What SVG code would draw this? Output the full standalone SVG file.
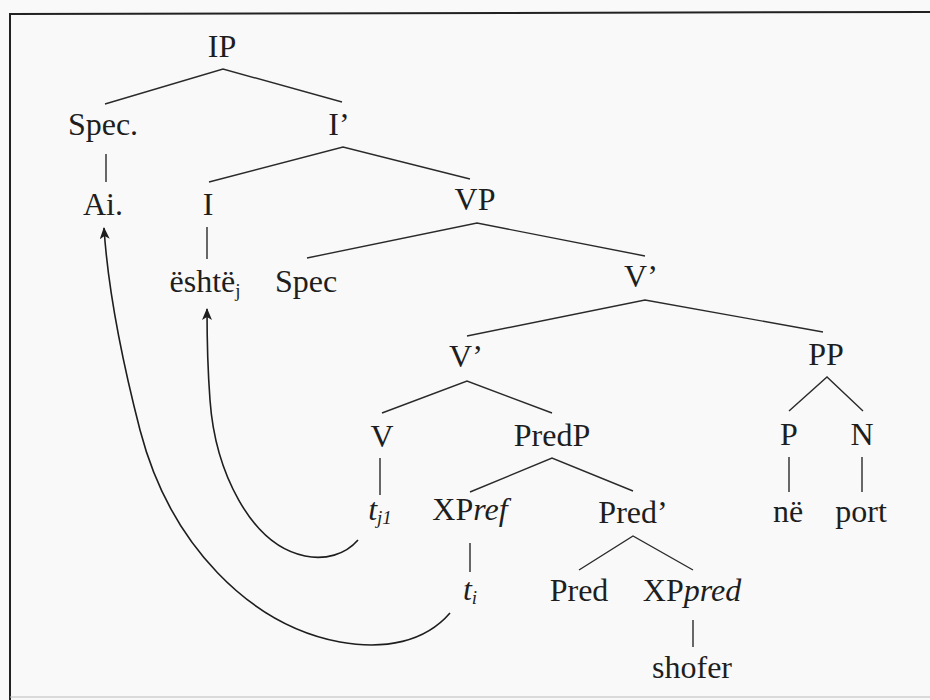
<svg xmlns="http://www.w3.org/2000/svg" width="930" height="700" viewBox="0 0 930 700">
<defs>
<style>
.lbl text{font-size:32px;fill:#1e1e1e;text-anchor:middle}
.it{font-style:italic}
.sub{font-size:19px}
.edge{stroke:#2a2a2a;stroke-width:1.4;fill:none}
.move{stroke:#1e1e1e;stroke-width:1.6;fill:none;marker-end:url(#ah)}
</style>
<marker id="ah" viewBox="0 0 12 10" refX="11" refY="5" markerWidth="12" markerHeight="10" markerUnits="userSpaceOnUse" orient="auto">
<path d="M0,0 L12,5 L0,10 L3,5 Z" fill="#1e1e1e"/>
</marker>
</defs>
<rect x="0" y="0" width="930" height="700" fill="#f9f9f9"/>
<path d="M10,700 L10,14 L930,12" stroke="#222" stroke-width="2" fill="none"/>
<path d="M10,697 L930,697" stroke="#bbb" stroke-width="1" fill="none"/>

<g id="connectors">
<path class="edge" d="M105,104 L223,69 L342,102"/>
<path class="edge" d="M106,154 L106,182"/>
<path class="edge" d="M209,182 L343,147 L470,179"/>
<path class="edge" d="M207,227 L207,259"/>
<path class="edge" d="M307,258 L477,223 L645,256"/>
<path class="edge" d="M467,336 L645,300 L823,332"/>
<path class="edge" d="M382,413 L467,381 L552,413"/>
<path class="edge" d="M789,411 L827,377 L863,411"/>
<path class="edge" d="M789,457 L789,492"/>
<path class="edge" d="M862,457 L862,492"/>
<path class="edge" d="M380,458 L380,495"/>
<path class="edge" d="M470,492 L552,458 L633,491"/>
<path class="edge" d="M470,543 L470,572"/>
<path class="edge" d="M579,570 L633,536 L693,570"/>
<path class="edge" d="M693,620 L693,647"/>
<path class="move" d="M450,613 C425,642 385,650 340,642 C250,625 170,545 140,430 C122,360 108,290 104,228"/>
<path class="move" d="M358,540 C345,555 325,560 305,556 C250,545 215,470 210,400 C207,360 207,330 207,309"/>
</g>

<g class="lbl" font-family="'Liberation Serif', 'DejaVu Serif', serif">
<g id="IP"><text x="222" y="57">IP</text></g>
<g id="SpecIP"><text x="103" y="135">Spec.</text></g>
<g id="Ibar"><text x="339" y="135">I’</text></g>
<g id="Ai"><text x="103" y="215">Ai.</text></g>
<g id="I"><text x="208" y="215">I</text></g>
<g id="VP"><text x="475" y="210">VP</text></g>
<g id="eshte"><text x="205" y="292">është<tspan class="sub" dy="5">j</tspan></text></g>
<g id="SpecVP"><text x="306" y="292">Spec</text></g>
<g id="Vbar1"><text x="641" y="287">V’</text></g>
<g id="Vbar2"><text x="466" y="367">V’</text></g>
<g id="PP"><text x="826" y="365">PP</text></g>
<g id="V"><text x="382" y="447">V</text></g>
<g id="PredP"><text x="552" y="446">PredP</text></g>
<g id="P"><text x="789" y="445">P</text></g>
<g id="N"><text x="862" y="445">N</text></g>
<g id="tj1"><text x="380" y="520" class="it">t<tspan class="sub" dy="4">j1</tspan></text></g>
<g id="XPref"><text x="470" y="520">XP<tspan class="it">ref</tspan></text></g>
<g id="Predbar"><text x="633" y="523">Pred’</text></g>
<g id="ne"><text x="788" y="522">në</text></g>
<g id="port"><text x="861" y="522">port</text></g>
<g id="ti"><text x="470" y="600" class="it">t<tspan class="sub" dy="4">i</tspan></text></g>
<g id="Pred"><text x="579" y="601">Pred</text></g>
<g id="XPpred"><text x="692" y="601">XP<tspan class="it">pred</tspan></text></g>
<g id="shofer"><text x="692" y="678">shofer</text></g>
</g>
</svg>
